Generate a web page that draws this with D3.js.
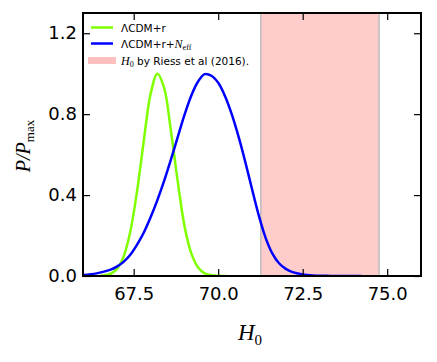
<!DOCTYPE html>
<html>
<head>
<meta charset="utf-8">
<script src="https://cdn.jsdelivr.net/npm/d3@7"></script>
<style>
body { margin: 0; background: #fff; }
svg { display: block; }
.tick text { font-family: "DejaVu Sans", sans-serif; }
</style>
</head>
<body>
<div id="chart"></div>
<script>
// values
var h0_lcdm = [66.5, 66.8, 67.0, 67.2, 67.4, 67.6, 67.8, 68.0, 68.2, 68.4, 68.6, 68.8, 69.0, 69.2, 69.4, 69.6, 69.8, 70.0, 70.25];
var p_lcdm = [0.001, 0.01, 0.034, 0.095, 0.22, 0.42, 0.67, 0.90, 1.0, 0.93, 0.72, 0.47, 0.25, 0.114, 0.043, 0.013, 0.004, 0.001, 0.0];
var h0_neff = [66.0, 66.4, 66.8, 67.0, 67.2, 67.4, 67.6, 67.8, 68.0, 68.2, 68.4, 68.6, 68.8, 69.0, 69.2, 69.4, 69.6, 69.8, 70.0, 70.2, 70.4, 70.6, 70.8, 71.0, 71.2, 71.4, 71.6, 71.8, 72.0, 72.2, 72.5, 72.8, 73.2, 73.6, 74.24];
var p_neff = [0.005, 0.013, 0.03, 0.046, 0.07, 0.105, 0.155, 0.215, 0.29, 0.375, 0.47, 0.575, 0.685, 0.795, 0.89, 0.96, 0.998, 0.99, 0.955, 0.89, 0.80, 0.69, 0.565, 0.43, 0.30, 0.19, 0.112, 0.063, 0.035, 0.019, 0.008, 0.003, 0.001, 0.0, 0.0];
var riess_band = [71.26, 74.76];
var x_ticks = [67.5, 70.0, 72.5, 75.0];
var y_ticks = [0.0, 0.4, 0.8, 1.2];
var legend_labels = ['\u039bCDM+r', '\u039bCDM+r+', ' by Riess et al (2016).'];

var fmt = {
	left: 83, right: 421, top: 13, bottom: 276,
	clr_lcdm: '#7fff00',
	clr_neff: '#0000ff',
	clr_band: '#ffcccc',
	clr_band_edge: '#bdbdbd'
};

var W = 437, H = 362;
var svg = d3.select('#chart').append('svg')
	.attr('width', W)
	.attr('height', H);

var x = d3.scaleLinear().domain([66, 76]).range([fmt.left, fmt.right]);
var y = d3.scaleLinear().domain([0, 1.3]).range([fmt.bottom, fmt.top]);

svg.append('clipPath').attr('id', 'clip')
	.append('rect')
	.attr('x', fmt.left).attr('y', fmt.top)
	.attr('width', fmt.right - fmt.left).attr('height', fmt.bottom - fmt.top);

var plot = svg.append('g').attr('clip-path', 'url(#clip)');

// Riess band
plot.append('rect')
	.attr('x', x(riess_band[0]))
	.attr('y', fmt.top)
	.attr('width', x(riess_band[1]) - x(riess_band[0]))
	.attr('height', fmt.bottom - fmt.top)
	.attr('fill', fmt.clr_band)
	.attr('stroke', 'none');
riess_band.forEach(function(v) {
	plot.append('line')
		.attr('x1', x(v)).attr('x2', x(v))
		.attr('y1', fmt.top).attr('y2', fmt.bottom)
		.attr('stroke', fmt.clr_band_edge)
		.attr('stroke-width', 1.5);
});

var line = d3.line()
	.x(function(d) { return x(d[0]); })
	.y(function(d) { return y(Math.max(0, d[1])); })
	.curve(d3.curveCatmullRom.alpha(0.5));

plot.append('path')
	.datum(d3.zip(h0_lcdm, p_lcdm))
	.attr('d', line)
	.style('stroke', fmt.clr_lcdm)
	.style('stroke-width', 2.5)
	.style('fill', 'none');

plot.append('path')
	.datum(d3.zip(h0_neff, p_neff))
	.attr('d', line)
	.style('stroke', fmt.clr_neff)
	.style('stroke-width', 2.5)
	.style('fill', 'none');

// axes, ticks inside on all four sides
var tickLen = 7;
svg.append('g')
	.attr('transform', `translate(0,${fmt.bottom})`)
	.call(d3.axisBottom(x).tickValues(x_ticks).tickFormat(d3.format('.1f'))
		.tickSizeInner(-tickLen).tickSizeOuter(0).tickPadding(11))
	.call(function(g) {
		g.select('.domain').remove();
		g.selectAll('.tick line').attr('stroke-width', 1.2);
		g.selectAll('.tick text').attr('font-size', 18).attr('fill', '#000');
	});
svg.append('g')
	.attr('transform', `translate(0,${fmt.top})`)
	.call(d3.axisTop(x).tickValues(x_ticks).tickFormat('')
		.tickSizeInner(-tickLen).tickSizeOuter(0))
	.call(function(g) {
		g.select('.domain').remove();
		g.selectAll('.tick line').attr('stroke-width', 1.2);
	});
svg.append('g')
	.attr('transform', `translate(${fmt.left},0)`)
	.call(d3.axisLeft(y).tickValues(y_ticks).tickFormat(d3.format('.1f'))
		.tickSizeInner(-tickLen).tickSizeOuter(0).tickPadding(6))
	.call(function(g) {
		g.select('.domain').remove();
		g.selectAll('.tick line').attr('stroke-width', 1.2);
		g.selectAll('.tick text').attr('font-size', 18).attr('fill', '#000');
	});
svg.append('g')
	.attr('transform', `translate(${fmt.right},0)`)
	.call(d3.axisRight(y).tickValues(y_ticks).tickFormat('')
		.tickSizeInner(-tickLen).tickSizeOuter(0))
	.call(function(g) {
		g.select('.domain').remove();
		g.selectAll('.tick line').attr('stroke-width', 1.2);
	});

// frame
svg.append('rect')
	.attr('x', fmt.left).attr('y', fmt.top)
	.attr('width', fmt.right - fmt.left).attr('height', fmt.bottom - fmt.top)
	.attr('fill', 'none')
	.attr('stroke', '#000')
	.attr('stroke-width', 2);

// axis labels
var xl = svg.append('text')
	.attr('x', 250).attr('y', 340)
	.attr('text-anchor', 'middle')
	.style('font-family', '"Liberation Serif", serif')
	.style('font-size', '23px')
	.style('font-style', 'italic');
xl.append('tspan').text('H');
xl.append('tspan').attr('dy', 5).style('font-style', 'normal').style('font-size', '15px').text('0');

var yl = svg.append('text')
	.attr('transform', 'translate(30,146) rotate(-90)')
	.attr('text-anchor', 'middle')
	.style('font-family', '"Liberation Serif", serif')
	.style('font-size', '20px')
	.style('font-style', 'italic');
yl.append('tspan').text('P/P');
yl.append('tspan').attr('dy', 4).style('font-style', 'normal').style('font-size', '13px').text('max');

// legend
var lg = svg.append('g')
	.style('font-family', '"DejaVu Sans", sans-serif')
	.style('font-size', '10.5px');
lg.append('line')
	.attr('x1', 91).attr('x2', 113).attr('y1', 27.5).attr('y2', 27.5)
	.attr('stroke', fmt.clr_lcdm).attr('stroke-width', 2.5);
lg.append('text').attr('x', 121).attr('y', 31.5).text(legend_labels[0]);
lg.append('line')
	.attr('x1', 91).attr('x2', 113).attr('y1', 43.5).attr('y2', 43.5)
	.attr('stroke', fmt.clr_neff).attr('stroke-width', 2.5);
var t2 = lg.append('text').attr('x', 121).attr('y', 47.5);
t2.append('tspan').text(legend_labels[1]);
t2.append('tspan').style('font-family', '"Liberation Serif", serif').style('font-style', 'italic').style('font-size', '12px').text('N');
t2.append('tspan').attr('dy', 2).style('font-family', '"Liberation Serif", serif').style('font-size', '8px').text('eff');
lg.append('rect')
	.attr('x', 88).attr('y', 57).attr('width', 28).attr('height', 7)
	.attr('fill', '#ffbfbf');
var t3 = lg.append('text').attr('x', 121).attr('y', 64.5);
t3.append('tspan').style('font-family', '"Liberation Serif", serif').style('font-style', 'italic').style('font-size', '12px').text('H');
t3.append('tspan').attr('dy', 2).style('font-family', '"Liberation Serif", serif').style('font-size', '8px').text('0');
t3.append('tspan').attr('dy', -2).text(legend_labels[2]);
</script>
</body>
</html>
